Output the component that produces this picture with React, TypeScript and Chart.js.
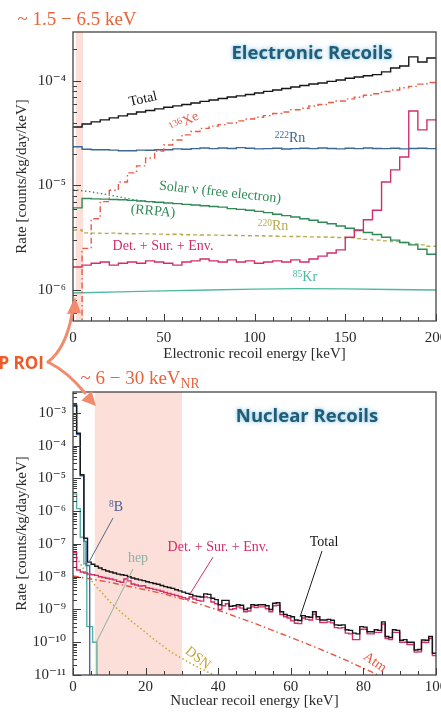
import React, { useEffect, useRef } from "react";
import { Chart, registerables } from "chart.js";

Chart.register(...registerables);

// ---------------- Electronic recoils (top panel) ----------------
const ER_BIN_WIDTH = 5; // keV
const ER_X_RANGE = [0, 200];
const ER_Y_RANGE = [5.05e-7, 2.94e-4];
const ER_ROI = [1.5, 5.6];
const ER_Y_TICKS = [1e-6, 1e-5, 1e-4];
const ER_Y_TICK_LABELS = ["10⁻⁶", "10⁻⁵", "10⁻⁴"];

const ER_TOTAL = [
  3.63e-5, 3.88e-5, 4.06e-5, 4.24e-5, 4.43e-5, 4.63e-5, 4.83e-5, 5.05e-5, 5.22e-5, 5.4e-5,
  5.6e-5, 5.77e-5, 5.96e-5, 6.16e-5, 6.37e-5, 6.58e-5, 6.8e-5, 7.03e-5, 7.2e-5, 7.43e-5,
  7.68e-5, 7.94e-5, 8.2e-5, 8.48e-5, 8.76e-5, 9.06e-5, 9.36e-5, 9.57e-5, 9.9e-5, 1.02e-4,
  1.06e-4, 1.09e-4, 1.12e-4, 1.15e-4, 1.22e-4, 1.33e-4, 1.39e-4, 1.7e-4, 1.52e-4, 1.66e-4,
];
const ER_XE136 = [
  1e-9, 2.5e-6, 4.8e-6, 7.0e-6, 9.0e-6, 1.08e-5, 1.32e-5, 1.54e-5, 1.83e-5, 2.14e-5,
  2.44e-5, 2.72e-5, 3.05e-5, 3.28e-5, 3.52e-5, 3.7e-5, 3.82e-5, 3.95e-5, 4.15e-5, 4.32e-5,
  4.5e-5, 4.66e-5, 4.88e-5, 5.05e-5, 5.3e-5, 5.48e-5, 5.75e-5, 5.95e-5, 6.22e-5, 6.43e-5,
  6.74e-5, 6.98e-5, 7.3e-5, 7.55e-5, 7.92e-5, 8.2e-5, 8.6e-5, 8.88e-5, 9.32e-5, 9.65e-5,
];
const ER_RN222 = [
  2.35e-5, 2.22e-5, 2.2e-5, 2.2e-5, 2.18e-5, 2.15e-5, 2.15e-5, 2.18e-5, 2.17e-5, 2.2e-5,
  2.2e-5, 2.24e-5, 2.22e-5, 2.25e-5, 2.28e-5, 2.25e-5, 2.28e-5, 2.26e-5, 2.3e-5, 2.27e-5,
  2.24e-5, 2.25e-5, 2.27e-5, 2.23e-5, 2.25e-5, 2.27e-5, 2.25e-5, 2.28e-5, 2.26e-5, 2.24e-5,
  2.27e-5, 2.25e-5, 2.28e-5, 2.26e-5, 2.25e-5, 2.27e-5, 2.24e-5, 2.26e-5, 2.27e-5, 2.25e-5,
];
const ER_RRPA = [
  6.1e-6, 7.5e-6, 7.45e-6, 7.4e-6, 7.35e-6, 7.3e-6, 7.2e-6, 7.1e-6, 7.0e-6, 6.9e-6,
  6.8e-6, 6.7e-6, 6.6e-6, 6.5e-6, 6.4e-6, 6.3e-6, 6.2e-6, 6.0e-6, 5.9e-6, 5.8e-6,
  5.65e-6, 5.5e-6, 5.3e-6, 5.15e-6, 5.0e-6, 4.8e-6, 4.65e-6, 4.45e-6, 4.3e-6, 4.1e-6,
  3.9e-6, 3.7e-6, 3.55e-6, 3.4e-6, 3.2e-6, 3.0e-6, 2.85e-6, 2.7e-6, 2.45e-6, 2.2e-6,
];
const ER_RN220 = [
  3.75e-6, 3.52e-6, 3.5e-6, 3.48e-6, 3.5e-6, 3.47e-6, 3.45e-6, 3.46e-6, 3.44e-6, 3.42e-6,
  3.4e-6, 3.41e-6, 3.38e-6, 3.37e-6, 3.36e-6, 3.35e-6, 3.33e-6, 3.34e-6, 3.31e-6, 3.3e-6,
  3.3e-6, 3.28e-6, 3.27e-6, 3.26e-6, 3.25e-6, 3.24e-6, 3.22e-6, 3.21e-6, 3.2e-6, 3.18e-6,
  3.15e-6, 3.1e-6, 3.05e-6, 3.0e-6, 2.95e-6, 2.9e-6, 2.85e-6, 2.75e-6, 2.7e-6, 2.62e-6,
];
const ER_DET = [
  1.66e-6, 1.73e-6, 1.8e-6, 1.85e-6, 1.73e-6, 1.8e-6, 1.85e-6, 1.8e-6, 1.9e-6, 1.85e-6,
  1.8e-6, 1.73e-6, 1.85e-6, 1.9e-6, 1.98e-6, 1.9e-6, 1.85e-6, 1.94e-6, 1.85e-6, 1.9e-6,
  1.8e-6, 1.85e-6, 1.9e-6, 1.85e-6, 1.94e-6, 1.85e-6, 1.98e-6, 2.11e-6, 2.26e-6, 2.42e-6,
  3.2e-6, 3.75e-6, 4.7e-6, 5.8e-6, 1.08e-5, 1.41e-5, 1.87e-5, 5.16e-5, 3.4e-5, 4.24e-5,
];
const ER_SOLAR_E = [0, 5, 10, 15, 20, 25, 30, 35, 40, 45];
const ER_SOLAR = [9.1e-6, 8.9e-6, 8.7e-6, 8.4e-6, 8.1e-6, 7.8e-6, 7.5e-6, 7.25e-6, 7.05e-6, 6.9e-6];
const ER_KR85_E = [0, 25, 50, 75, 100, 125, 150, 175, 200];
const ER_KR85 = [9.35e-7, 9.6e-7, 9.8e-7, 1.0e-6, 1.02e-6, 1.03e-6, 1.025e-6, 1.01e-6, 1.0e-6];

// ---------------- Nuclear recoils (bottom panel) ----------------
const NR_BIN_WIDTH = 1; // keV
const NR_X_RANGE = [0, 100];
const NR_Y_RANGE = [1e-11, 4.37e-3];
const NR_ROI = [6, 30];
const NR_Y_TICKS = [1e-11, 1e-10, 1e-9, 1e-8, 1e-7, 1e-6, 1e-5, 1e-4, 1e-3];
const NR_Y_TICK_LABELS = ["10⁻¹¹", "10⁻¹⁰", "10⁻⁹", "10⁻⁸", "10⁻⁷", "10⁻⁶", "10⁻⁵", "10⁻⁴", "10⁻³"];

const NR_TOTAL = [
  1.75e-3, 2.4e-4, 1.3e-5, 1.5e-7, 2.8e-8, 2.4e-8, 2.1e-8, 1.85e-8, 1.65e-8, 1.5e-8,
  1.4e-8, 1.3e-8, 1.2e-8, 1.15e-8, 1.1e-8, 1.0e-8, 9.2e-9, 8.5e-9, 8.0e-9, 7.6e-9,
  7.0e-9, 6.6e-9, 6.2e-9, 5.9e-9, 5.4e-9, 5.0e-9, 4.7e-9, 4.4e-9, 4.0e-9, 3.7e-9,
  3.4e-9, 3.1e-9, 2.9e-9, 2.6e-9, 2.5e-9, 2.4e-9, 3.0e-9, 2.9e-9, 2.2e-9, 2.0e-9,
  1.4e-9, 1.9e-9, 1.9e-9, 1.25e-9, 1.3e-9, 1.4e-9, 1.35e-9, 1.0e-9, 1.1e-9, 1.4e-9,
  1.35e-9, 1.4e-9, 1.4e-9, 1.3e-9, 1.0e-9, 1.55e-9, 1.6e-9, 8.5e-10, 7.0e-10, 6.5e-10,
  6.0e-10, 4.8e-10, 4.6e-10, 6.5e-10, 6.0e-10, 5.8e-10, 8.5e-10, 6.0e-10, 4.8e-10, 4.8e-10,
  5.0e-10, 4.7e-10, 3.4e-10, 3.3e-10, 3.4e-10, 2.4e-10, 2.3e-10, 1.9e-10, 1.8e-10, 3.0e-10,
  2.9e-10, 2.1e-10, 2.1e-10, 2.4e-10, 2.3e-10, 4.2e-10, 1.5e-10, 1.4e-10, 2.4e-10, 2.3e-10,
  1.15e-10, 1.2e-10, 1.0e-10, 1.0e-10, 5.8e-11, 6.0e-11, 1.17e-10, 1.15e-10, 1.5e-10, 4.6e-11,
];
const NR_DET = [
  5.5e-8, 1.6e-8, 1.4e-8, 1.3e-8, 1.2e-8, 1.15e-8, 1.1e-8, 1.0e-8, 9.5e-9, 9.0e-9,
  8.5e-9, 8.0e-9, 7.2e-9, 6.8e-9, 8.5e-9, 7.5e-9, 6.0e-9, 5.6e-9, 5.2e-9, 5.3e-9,
  4.6e-9, 4.4e-9, 4.1e-9, 3.9e-9, 3.6e-9, 3.3e-9, 3.1e-9, 2.9e-9, 2.7e-9, 2.5e-9,
  2.3e-9, 2.1e-9, 2.4e-9, 2.1e-9, 1.9e-9, 1.8e-9, 2.4e-9, 2.3e-9, 1.7e-9, 1.5e-9,
  1.0e-9, 1.3e-9, 1.5e-9, 1.0e-9, 1.05e-9, 1.2e-9, 1.1e-9, 8.5e-10, 9.0e-10, 1.2e-9,
  1.15e-9, 1.2e-9, 1.2e-9, 1.05e-9, 8.5e-10, 1.3e-9, 1.35e-9, 7.0e-10, 6.0e-10, 5.5e-10,
  4.5e-10, 3.8e-10, 3.7e-10, 5.5e-10, 5.0e-10, 4.8e-10, 7.2e-10, 5.0e-10, 4.0e-10, 4.0e-10,
  4.2e-10, 3.9e-10, 2.8e-10, 2.7e-10, 2.8e-10, 1.9e-10, 1.8e-10, 1.2e-10, 1.2e-10, 2.5e-10,
  2.5e-10, 1.8e-10, 1.8e-10, 2.0e-10, 2.0e-10, 3.6e-10, 1.3e-10, 1.2e-10, 2.0e-10, 2.0e-10,
  1.0e-10, 1.0e-10, 8.5e-11, 8.5e-11, 5.0e-11, 5.1e-11, 1.0e-10, 9.8e-11, 1.3e-10, 3.9e-11,
];
const NR_B8_EDGES = [0, 1, 2, 3, 3.6, 4.6];
const NR_B8 = [1.6e-3, 2.2e-4, 1.2e-5, 1.2e-7, 2.2e-8];
const NR_HEP_EDGES = [0, 1, 2, 3, 3.8, 5.4, 6.6];
const NR_HEP = [3.4e-6, 1.2e-6, 1.6e-7, 2.5e-8, 3.0e-10, 1.0e-10];
const NR_ATM_E = [0, 5, 10, 15, 20, 25, 30, 35, 40, 45, 50, 55, 60, 65, 70, 75, 80, 85];
const NR_ATM = [
  1.05e-8, 8.5e-9, 6.8e-9, 5.2e-9, 4.0e-9, 3.0e-9, 2.1e-9, 1.45e-9, 9.5e-10, 6.0e-10,
  3.8e-10, 2.3e-10, 1.4e-10, 8.5e-11, 5.0e-11, 2.9e-11, 1.6e-11, 9e-12,
];
const NR_DSN_E = [0.5, 2, 4, 6, 8, 10, 12, 14, 16, 18, 20, 22, 24, 26, 28, 30, 32, 35, 38, 41];
const NR_DSN = [
  5e-8, 2.5e-8, 1.12e-8, 5.6e-9, 3.2e-9, 1.8e-9, 1.1e-9, 7e-10, 4.5e-10, 3e-10,
  2e-10, 1.3e-10, 9e-11, 6e-11, 4.3e-11, 3.2e-11, 2.4e-11, 1.6e-11, 1.1e-11, 7.5e-12,
];

// ---------------- styles ----------------
const SERIF = "'Liberation Serif', 'Times New Roman', 'DejaVu Serif', serif";
const SANS = "'Open Sans', Lato, Inter, sans-serif";
const AXIS_COLOR = "#3a3a3a";
const ROI_FILL = "rgba(245,150,125,0.3)";
const FLOOR = 1e-14;

const C = {
  total: "#161616",
  xe: "#e85c48",
  rn222: "#3b6894",
  green: "#2f8a56",
  rn220: "#b9aa4c",
  det: "#d42d6b",
  kr: "#4db8a0",
  b8: "#3f69a8",
  hep: "#55b0a2",
  atm: "#e8553f",
  dsn: "#c8a232",
  orange: "#e9623c",
  arrow: "#f28a6c",
  title: "#1f5d78",
};

function edgesFor(range: number[], width: number) {
  const out: number[] = [];
  for (let e = range[0]; e <= range[1] + 1e-9; e += width) out.push(e);
  return out;
}

function hist(edges: number[], vals: number[], dropToFloor = false) {
  const pts = vals.map((v, i) => ({ x: edges[i], y: v }));
  pts.push({ x: edges[vals.length], y: vals[vals.length - 1] });
  if (dropToFloor) pts.push({ x: edges[vals.length], y: FLOOR });
  return pts;
}

function curve(xs: number[], ys: number[]) {
  return xs.map((x, i) => ({ x, y: ys[i] }));
}

function framePlugin(roi: number[], xMinor: number, xMajor: number) {
  return {
    id: "frameTicks",
    beforeDatasetsDraw(chart: any) {
      const { ctx, chartArea: a, scales } = chart;
      const x = scales.x;
      const x0 = x.getPixelForValue(roi[0]);
      const x1 = x.getPixelForValue(roi[1]);
      ctx.save();
      ctx.fillStyle = ROI_FILL;
      ctx.fillRect(x0, a.top, x1 - x0, a.bottom - a.top);
      ctx.restore();
    },
    afterDatasetsDraw(chart: any) {
      const { ctx, chartArea: a, scales } = chart;
      const x = scales.x;
      const y = scales.y;
      ctx.save();
      ctx.strokeStyle = AXIS_COLOR;
      ctx.lineWidth = 1;
      for (let v = x.min; v <= x.max + 1e-9; v += xMinor) {
        const px = Math.round(x.getPixelForValue(v)) + 0.5;
        const r = v / xMajor;
        const len = Math.abs(r - Math.round(r)) < 1e-6 ? 7 : 4;
        ctx.beginPath();
        ctx.moveTo(px, a.bottom);
        ctx.lineTo(px, a.bottom - len);
        ctx.stroke();
      }
      const dMin = Math.floor(Math.log10(y.min));
      const dMax = Math.ceil(Math.log10(y.max));
      for (let d = dMin; d <= dMax; d++) {
        for (let m = 1; m <= 9; m++) {
          const v = m * Math.pow(10, d);
          if (v < y.min * 0.999 || v > y.max) continue;
          const py = Math.round(y.getPixelForValue(v)) + 0.5;
          const len = m === 1 ? 8 : 4;
          ctx.beginPath();
          ctx.moveTo(a.left, py);
          ctx.lineTo(a.left + len, py);
          ctx.stroke();
        }
      }
      ctx.lineWidth = 1.3;
      ctx.strokeStyle = "#444";
      ctx.strokeRect(a.left, a.top, a.right - a.left, a.bottom - a.top);
      ctx.restore();
    },
  };
}

function baseOptions(p: {
  xRange: number[];
  yRange: number[];
  xStep: number;
  yTicks: number[];
  yLabels: string[];
  xTitle: string;
  padTop: number;
  xHeight: number;
  xTickPad: number;
  xTitlePad: number;
}) {
  const tickFont = { family: SERIF, size: 15 };
  return {
    responsive: false,
    animation: false,
    devicePixelRatio: 1,
    layout: { padding: { top: p.padTop, right: 24, left: 0, bottom: 0 } },
    plugins: { legend: { display: false }, tooltip: { enabled: false } },
    elements: { point: { radius: 0, hoverRadius: 0 }, line: { tension: 0 } },
    scales: {
      x: {
        type: "linear",
        min: p.xRange[0],
        max: p.xRange[1],
        grid: { display: false, drawTicks: false },
        border: { display: false },
        ticks: { stepSize: p.xStep, font: tickFont, color: "#2a2a2a", padding: p.xTickPad, maxRotation: 0, autoSkip: false },
        title: {
          display: true,
          text: p.xTitle,
          font: { family: SERIF, size: 15 },
          color: "#2a2a2a",
          padding: { top: 0, bottom: p.xTitlePad },
        },
        afterFit: (s: any) => {
          s.height = p.xHeight;
        },
      },
      y: {
        type: "logarithmic",
        min: p.yRange[0],
        max: p.yRange[1],
        grid: { display: false, drawTicks: false },
        border: { display: false },
        afterBuildTicks: (s: any) => {
          s.ticks = p.yTicks.map((v) => ({ value: v }));
        },
        ticks: {
          font: tickFont,
          color: "#2a2a2a",
          padding: 7,
          autoSkip: false,
          callback: (v: number) => {
            const i = p.yTicks.findIndex((t) => Math.abs(t - v) / t < 1e-6);
            return i >= 0 ? p.yLabels[i] : "";
          },
        },
        title: {
          display: true,
          text: "Rate [counts/kg/day/keV]",
          font: { family: SERIF, size: 15 },
          color: "#2a2a2a",
          padding: { top: 13, bottom: 0 },
        },
        afterFit: (s: any) => {
          s.width = 73;
        },
      },
    },
  };
}

function line(data: any[], color: string, extra: any = {}) {
  return { data, borderColor: color, borderWidth: 1.4, pointRadius: 0, fill: false, ...extra };
}

function erConfig() {
  const edges = edgesFor(ER_X_RANGE, ER_BIN_WIDTH);
  return {
    type: "line",
    data: {
      datasets: [
        line(hist(edges, ER_TOTAL), C.total, { stepped: "before" }),
        line(hist(edges, ER_XE136), C.xe, { stepped: "before", borderDash: [6, 3, 1.5, 3] }),
        line(hist(edges, ER_RN222), C.rn222, { stepped: "before" }),
        line(hist(edges, ER_DET), C.det, { stepped: "before" }),
        line(curve(ER_SOLAR_E, ER_SOLAR), C.green, { borderDash: [1.5, 2.5], borderWidth: 1.3 }),
        line(hist(edges, ER_RRPA), C.green, { stepped: "before" }),
        line(hist(edges, ER_RN220), C.rn220, { stepped: "before", borderDash: [4, 3] }),
        line(curve(ER_KR85_E, ER_KR85), C.kr, {}),
      ],
    },
    options: baseOptions({
      xRange: ER_X_RANGE,
      yRange: ER_Y_RANGE,
      xStep: 50,
      yTicks: ER_Y_TICKS,
      yLabels: ER_Y_TICK_LABELS,
      xTitle: "Electronic recoil energy [keV]",
      padTop: 32,
      xHeight: 49,
      xTickPad: 8,
      xTitlePad: 7,
    }),
    plugins: [framePlugin(ER_ROI, 10, 50)],
  };
}

function nrConfig() {
  const edges = edgesFor(NR_X_RANGE, NR_BIN_WIDTH);
  return {
    type: "line",
    data: {
      datasets: [
        line(hist(edges, NR_TOTAL), C.total, { stepped: "before" }),
        line(hist(edges, NR_DET), C.det, { stepped: "before" }),
        line(hist(NR_B8_EDGES, NR_B8, true), C.b8, { stepped: "before" }),
        line(hist(NR_HEP_EDGES, NR_HEP, true), C.hep, { stepped: "before" }),
        line(curve(NR_ATM_E, NR_ATM), C.atm, { borderDash: [6, 3, 1.5, 3] }),
        line(curve(NR_DSN_E, NR_DSN), C.dsn, { borderDash: [1.5, 2.5], borderWidth: 1.5 }),
      ],
    },
    options: baseOptions({
      xRange: NR_X_RANGE,
      yRange: NR_Y_RANGE,
      xStep: 20,
      yTicks: NR_Y_TICKS,
      yLabels: NR_Y_TICK_LABELS,
      xTitle: "Nuclear recoil energy [keV]",
      padTop: 22,
      xHeight: 37,
      xTickPad: 3,
      xTitlePad: 2,
    }),
    plugins: [framePlugin(NR_ROI, 5, 20)],
  };
}

function ChartCanvas({ top, width, height, make }: { top: number; width: number; height: number; make: () => any }) {
  const ref = useRef<HTMLCanvasElement>(null);
  useEffect(() => {
    const chart = new Chart(ref.current as HTMLCanvasElement, make());
    return () => chart.destroy();
  }, []);
  return (
    <canvas
      ref={ref}
      width={width}
      height={height}
      style={{ position: "absolute", left: 0, top, width, height }}
    />
  );
}

function Label(props: {
  x: number;
  y: number;
  rot?: number;
  color: string;
  size?: number;
  family?: string;
  weight?: number;
  anchor?: "center" | "right";
  style?: any;
  children: any;
}) {
  const { x, y, rot = 0, color, size = 14, family = SERIF, weight = 400, anchor = "center", style = {} } = props;
  const tx = anchor === "right" ? "-100%" : "-50%";
  return (
    <div
      style={{
        position: "absolute",
        left: x,
        top: y,
        transform: `translate(${tx},-50%) rotate(${rot}deg)`,
        color,
        fontFamily: family,
        fontSize: size,
        fontWeight: weight,
        whiteSpace: "nowrap",
        lineHeight: 1,
        ...style,
      }}
    >
      {props.children}
    </div>
  );
}

const Sup = ({ children }: { children: any }) => (
  <span style={{ fontSize: "0.68em", position: "relative", top: "-0.45em" }}>{children}</span>
);
const Sub = ({ children }: { children: any }) => (
  <span style={{ fontSize: "0.72em", position: "relative", top: "0.3em" }}>{children}</span>
);

const glow = {
  textShadow: "0 0 3px rgba(150,200,225,0.95), 0 0 6px rgba(150,200,225,0.7)",
};

export default function App() {
  return (
    <div
      style={{
        position: "absolute",
        left: 0,
        top: 0,
        width: 441,
        height: 712,
        overflow: "hidden",
        background: "#fff",
      }}
    >
      <ChartCanvas top={0} width={460} height={370} make={erConfig} />
      <ChartCanvas top={370} width={460} height={342} make={nrConfig} />

      <svg width={441} height={712} style={{ position: "absolute", left: 0, top: 0, pointerEvents: "none" }}>
        <g fill="none" stroke={C.arrow} strokeWidth={3} strokeLinecap="round">
          <path d="M 48 362 Q 66 348 72 314" />
          <path d="M 48 362 Q 68 372 85 393" />
        </g>
        <g fill={C.arrow}>
          <polygon points="75,297 67,314 81,313" />
          <polygon points="96,406 81.4,400.6 91.6,391" />
        </g>
        <g strokeWidth={1}>
          <line x1={113} y1={518} x2={89} y2={562} stroke="#56687e" />
          <line x1={133} y1={569} x2={96} y2={643} stroke="#8ab0a4" />
          <line x1={213} y1={557} x2={190} y2={594} stroke={C.det} />
          <line x1={322} y1={551} x2={300} y2={617} stroke="#222" />
        </g>
      </svg>

      {/* Top annotations */}
      <Label x={77} y={18} color={C.orange} size={19}>
        ~ 1.5 − 6.5 keV
      </Label>
      <Label x={312} y={52} color={C.title} size={18.5} family={SANS} weight={700} style={glow}>
        Electronic Recoils
      </Label>
      <Label x={143} y={99} rot={-13} color={C.total}>
        Total
      </Label>
      <Label x={184} y={122} rot={-27} color={C.xe}>
        <Sup>136</Sup>Xe
      </Label>
      <Label x={290} y={138} color={C.rn222}>
        <Sup>222</Sup>Rn
      </Label>
      <Label x={220} y={192} rot={6} color={C.green}>
        Solar ν (free electron)
      </Label>
      <Label x={153} y={211} rot={5} color={C.green}>
        (RRPA)
      </Label>
      <Label x={273} y={226} color={C.rn220}>
        <Sup>220</Sup>Rn
      </Label>
      <Label x={163} y={246} color={C.det}>
        Det. + Sur. + Env.
      </Label>
      <Label x={305} y={277} color={C.kr}>
        <Sup>85</Sup>Kr
      </Label>

      {/* Middle annotations */}
      <Label x={44} y={362} anchor="right" color="#f05a28" size={17} family={SANS} weight={700}>
        WIMP ROI
      </Label>
      <Label x={140} y={377} color={C.orange} size={19}>
        ~ 6 − 30 keV<Sub>NR</Sub>
      </Label>

      {/* Bottom annotations */}
      <Label x={307} y={415} color={C.title} size={18.5} family={SANS} weight={700} style={glow}>
        Nuclear Recoils
      </Label>
      <Label x={116} y={507} color="#4a5d9a">
        <Sup>8</Sup>B
      </Label>
      <Label x={138} y={558} color="#8ab0a4">
        hep
      </Label>
      <Label x={218} y={547} color={C.det}>
        Det. + Sur. + Env.
      </Label>
      <Label x={324} y={542} color={C.total}>
        Total
      </Label>
      <Label x={375} y={662} rot={35} color={C.atm}>
        Atm
      </Label>
      <Label x={198} y={658} rot={38} color={C.dsn}>
        DSN
      </Label>
    </div>
  );
}
